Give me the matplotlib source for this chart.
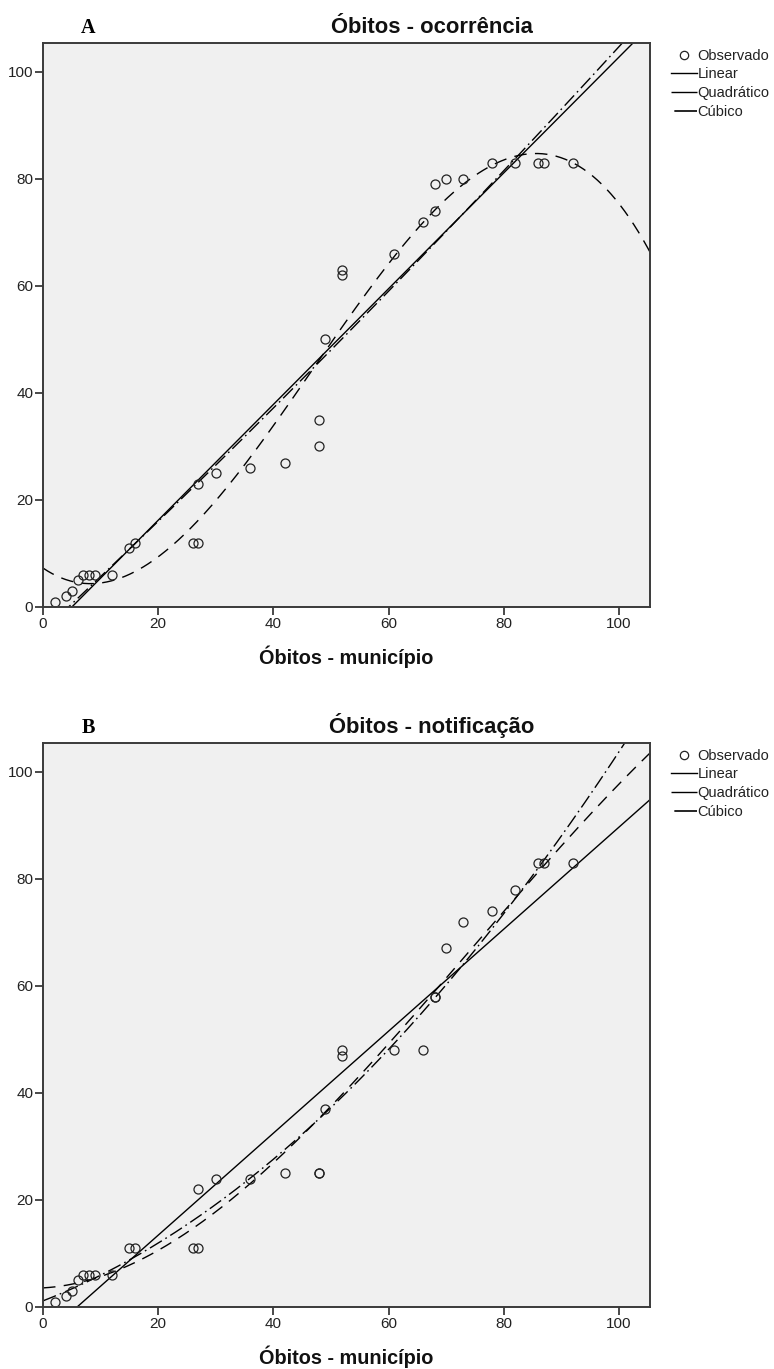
import numpy as np
import matplotlib
matplotlib.use("Agg")
import matplotlib.pyplot as plt
from matplotlib.lines import Line2D

# Óbitos - município (x) shared by both panels
obitos_municipio = [2, 4, 5, 6, 7, 8, 9, 12, 15, 16, 26, 27, 27, 30, 36, 42, 48, 48,
                    49, 52, 52, 61, 66, 68, 68, 70, 73, 78, 82, 86, 87, 92]
# Panel A: Óbitos - ocorrência
obitos_ocorrencia = [1, 2, 3, 5, 6, 6, 6, 6, 11, 12, 12, 12, 23, 25, 26, 27, 30, 35,
                     50, 63, 62, 66, 72, 74, 79, 80, 80, 83, 83, 83, 83, 83]
# Panel B: Óbitos - notificação
obitos_notificacao = [1, 2, 3, 5, 6, 6, 6, 6, 11, 11, 11, 11, 22, 24, 24, 25, 25, 25,
                      37, 48, 47, 48, 48, 58, 58, 67, 72, 74, 78, 83, 83, 83]

ticks = [0, 20, 40, 60, 80, 100]
legend_labels = ["Observado", "Linear", "Quadrático", "Cúbico"]

plt.rcParams['font.family'] = ['Liberation Sans', 'DejaVu Sans']

fig = plt.figure(figsize=(7.74, 13.69), dpi=100)

W, H = 774, 1369
def ax_rect(left, top, right, bottom):
    return [left / W, 1 - bottom / H, (right - left) / W, (bottom - top) / H]

panels = [
    (ax_rect(43, 43, 650, 607), obitos_ocorrencia, "Óbitos - ocorrência", "A", 33, 664),
    (ax_rect(43, 743, 650, 1307), obitos_notificacao, "Óbitos - notificação", "B", 733, 1364),
]

quad_style = (0, (10, 3, 1.2, 3))
cub_style = (0, (9, 6))
spine_col = "#3a3a3a"

for rect, yvals, title, letter, title_y, xlabel_y in panels:
    ax = fig.add_axes(rect)
    ax.set_facecolor("#f0f0f0")
    x = np.array(obitos_municipio, dtype=float)
    y = np.array(yvals, dtype=float)
    xs = np.linspace(0, 105.5, 400)
    c1 = np.polyfit(x, y, 1)
    c2 = np.polyfit(x, y, 2)
    c3 = np.polyfit(x, y, 3)
    ax.plot(xs, np.polyval(c1, xs), color="black", lw=1.0, ls="-")
    ax.plot(xs, np.polyval(c2, xs), color="black", lw=1.0, ls=quad_style)
    ax.plot(xs, np.polyval(c3, xs), color="black", lw=1.0, ls=cub_style)
    ax.plot(x, y, ls="none", marker="o", ms=6.5, mfc="none", mec="#222222", mew=0.9)

    ax.set_xlim(0, 105.4)
    ax.set_ylim(0, 105.4)
    ax.set_xticks(ticks)
    ax.set_yticks(ticks)
    ax.tick_params(direction="out", length=6, width=1.3, color=spine_col,
                   labelsize=11, pad=1.0, labelcolor="#222222")
    for s in ax.spines.values():
        s.set_color(spine_col)
        s.set_linewidth(1.4)

    fig.text(432 / W, 1 - title_y / H, title, ha="center", va="baseline",
             fontsize=15.8, fontweight="bold", color="#111111")
    fig.text(88 / W, 1 - title_y / H, letter, ha="center", va="baseline",
             fontsize=14.5, fontweight="bold", family="Liberation Serif")
    fig.text(346 / W, 1 - xlabel_y / H, "Óbitos - município", ha="center", va="baseline",
             fontsize=14.3, fontweight="bold", color="#111111")

    handles = [
        Line2D([], [], ls="none", marker="o", ms=6, mfc="none", mec="#222222", mew=0.9),
        Line2D([], [], color="black", lw=1.0, ls="-"),
        Line2D([], [], color="black", lw=1.0, ls=(0, (22, 2, 1, 20))),
        Line2D([], [], color="black", lw=1.2, ls=(0, (0, 2, 14, 30))),
    ]
    leg = ax.legend(handles, legend_labels, loc="upper left",
                    bbox_to_anchor=(1.0346, 0.99), frameon=False, fontsize=10.5,
                    handlelength=1.75, handletextpad=0.08, labelspacing=0.33,
                    borderaxespad=0.0, borderpad=0.0)
    for t in leg.get_texts():
        t.set_color("#222222")

fig.savefig("out.png", dpi=100)
